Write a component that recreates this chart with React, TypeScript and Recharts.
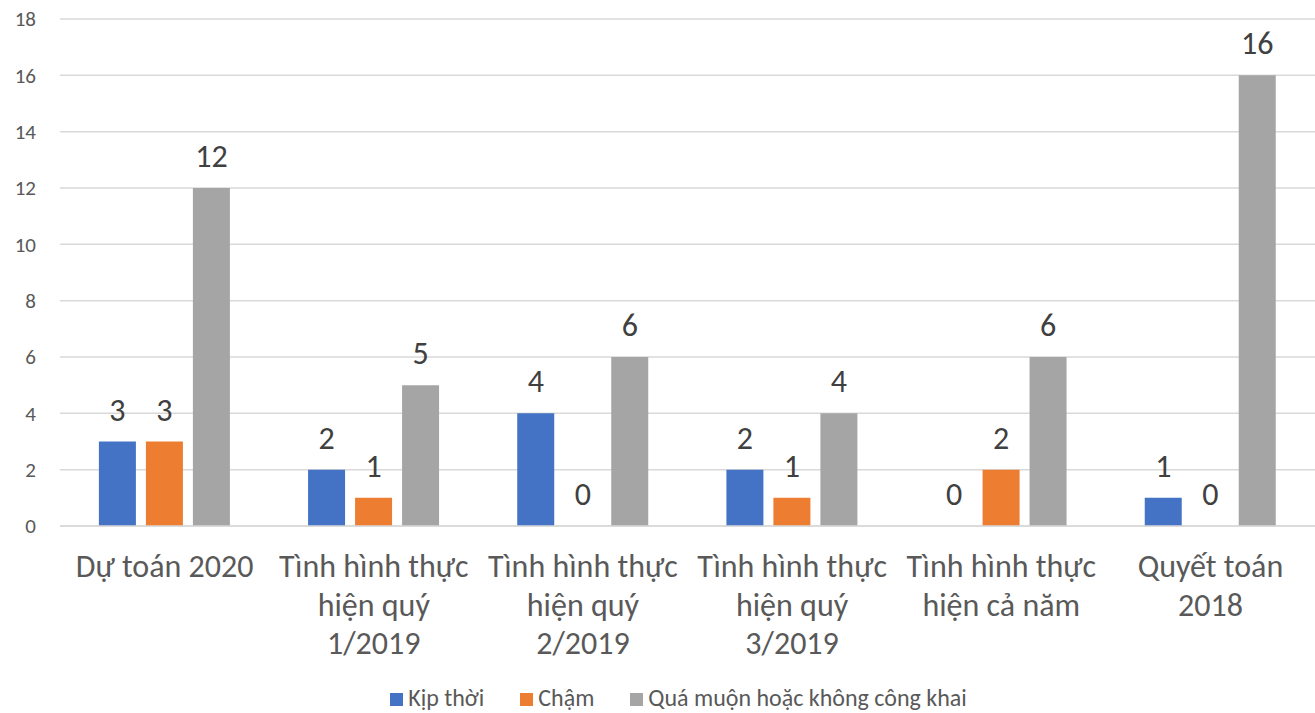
import React from 'react'
import { BarChart, Bar, XAxis, YAxis, CartesianGrid, Legend, LabelList } from 'recharts'

const FONT = 'Carlito, Lato, "Open Sans", sans-serif'

// categories (line breaks as in the original axis labels)
const categories = [
  'Dự toán 2020',
  'Tình hình thực\nhiện quý\n1/2019',
  'Tình hình thực\nhiện quý\n2/2019',
  'Tình hình thực\nhiện quý\n3/2019',
  'Tình hình thực\nhiện cả năm',
  'Quyết toán\n2018',
]

const kipThoi = [3, 2, 4, 2, 0, 1]
const cham = [3, 1, 0, 1, 2, 0]
const quaMuon = [12, 5, 6, 4, 6, 16]

const yTicks = [0, 2, 4, 6, 8, 10, 12, 14, 16, 18]

const series = [
  { key: 'kipThoi', name: 'Kịp thời', color: '#4472C4' },
  { key: 'cham', name: 'Chậm', color: '#ED7D31' },
  { key: 'quaMuon', name: 'Quá muộn hoặc không công khai', color: '#A5A5A5' },
]

const data = categories.map((name, i) => ({
  name,
  kipThoi: kipThoi[i],
  cham: cham[i],
  quaMuon: quaMuon[i],
}))

const CategoryTick = (props: any) => {
  const { x, y, payload } = props
  const lines = String(payload.value).split('\n')
  return (
    <text x={x} y={y} textAnchor="middle" fill="#595959" fontSize={32} fontFamily={FONT}>
      {lines.map((line, i) => (
        <tspan key={i} x={x} dy={i === 0 ? 43 : 38.5}>
          {line}
        </tspan>
      ))}
    </text>
  )
}

// value label above each bar, zero values included
const ValueLabel = (props: any) => {
  const { x, y, width, height, value } = props
  if (value === undefined || value === null) return null
  const top = Math.min(y, y + height)
  return (
    <text
      x={x + width / 2}
      y={top - 21}
      textAnchor="middle"
      fill="#404040"
      fontSize={32}
      fontFamily={FONT}
    >
      {value}
    </text>
  )
}

const LegendContent = () => (
  <div
    style={{
      display: 'flex',
      justifyContent: 'center',
      alignItems: 'center',
      height: 30,
      lineHeight: '30px',
      paddingTop: 5,
      paddingLeft: 42,
      fontFamily: FONT,
      fontSize: 24,
      color: '#595959',
    }}
  >
    {series.map((s, i) => (
      <div
        key={s.key}
        style={{ display: 'flex', alignItems: 'center', marginRight: i < series.length - 1 ? 36 : 0 }}
      >
        <span
          style={{ width: 13, height: 13, background: s.color, marginRight: 5, display: 'inline-block', marginTop: 2 }}
        />
        <span>{s.name}</span>
      </div>
    ))}
  </div>
)

export default function App() {
  return (
    <div style={{ position: 'absolute', left: 0, top: 0, background: '#fff' }}>
      <BarChart
        width={1315}
        height={713}
        data={data}
        margin={{ top: 19, right: 0, bottom: 0, left: 0 }}
        barCategoryGap="18.6%"
        barGap={10}
      >
        <CartesianGrid vertical={false} stroke="#d9d9d9" strokeWidth={1.5} />
        <XAxis
          dataKey="name"
          interval={0}
          height={152}
          axisLine={{ stroke: '#d9d9d9', strokeWidth: 1.5 }}
          tickLine={false}
          tick={<CategoryTick />}
        />
        <YAxis
          domain={[0, 18]}
          ticks={yTicks}
          width={60}
          axisLine={false}
          tickLine={false}
          tickMargin={18}
          tick={{ fill: '#595959', fontSize: 21, fontFamily: FONT }}
        />
        <Legend verticalAlign="bottom" content={<LegendContent />} />
        {series.map((s) => (
          <Bar
            key={s.key}
            dataKey={s.key}
            name={s.name}
            fill={s.color}
            minPointSize={0.01}
            isAnimationActive={false}
          >
            <LabelList dataKey={s.key} content={<ValueLabel />} />
          </Bar>
        ))}
      </BarChart>
    </div>
  )
}
